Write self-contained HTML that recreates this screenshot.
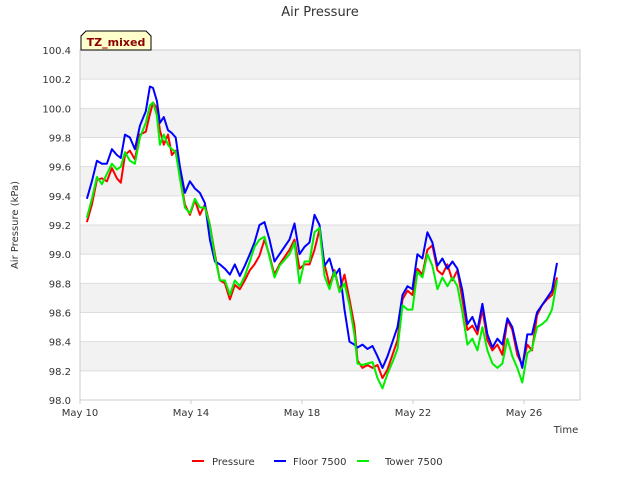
<!DOCTYPE html>
<html><head><meta charset="utf-8"><style>
body{margin:0;background:#fff;font-family:"Liberation Sans","DejaVu Sans",sans-serif}
svg text{font-family:"DejaVu Sans","Liberation Sans",sans-serif}
</style></head><body>
<svg id="chart" width="640" height="480">
<text x="320" y="16" text-anchor="middle" font-size="13" fill="#333">Air Pressure</text>
<g id="bands"></g><g id="grid"></g>
<rect x="80" y="50" width="500" height="350" fill="none" stroke="#ccc"/>
<g id="yt"></g><g id="xt"></g><g id="series"></g>
<text transform="translate(18,225) rotate(-90)" text-anchor="middle" font-size="10" fill="#333">Air Pressure (kPa)</text>
<text x="566" y="433" text-anchor="middle" font-size="10" fill="#333">Time</text>
<g><path d="M81,50 L81,36 L86,31 L146,31 L151,36 L151,50 Z" fill="#ffffcc" stroke="#000"/><text x="116" y="46" text-anchor="middle" font-size="11" font-weight="bold" fill="#8b0000">TZ_mixed</text></g>
<g>
<g><line x1="192" y1="461" x2="204" y2="461" stroke="#f00" stroke-width="2"/><text x="212" y="465" font-size="10" fill="#333">Pressure</text></g>
<g><line x1="274" y1="461" x2="286" y2="461" stroke="#00f" stroke-width="2"/><text x="293" y="465" font-size="10" fill="#333">Floor 7500</text></g>
<g><line x1="357" y1="461" x2="369" y2="461" stroke="#0e0" stroke-width="2"/><text x="385" y="465" font-size="10" fill="#333">Tower 7500</text></g>
</g>
</svg>
<script>
const days=[.25,.43,.61,.79,.97,1.15,1.33,1.47,1.62,1.80,1.98,2.16,2.37,2.52,2.63,2.77,2.88,3.02,3.17,3.31,3.45,3.60,3.78,3.96,4.14,4.32,4.50,4.68,4.86,5.04,5.22,5.40,5.58,5.76,5.94,6.12,6.29,6.47,6.65,6.83,7.01,7.19,7.55,7.73,7.91,8.09,8.27,8.45,8.63,8.81,8.99,9.17,9.35,9.53,9.71,9.89,10.0,10.18,10.36,10.54,10.72,10.90,11.08,11.26,11.44,11.62,11.80,11.98,12.16,12.34,12.52,12.70,12.88,13.06,13.24,13.42,13.60,13.78,13.96,14.14,14.32,14.50,14.68,14.86,15.04,15.22,15.40,15.58,15.76,15.94,16.12,16.29,16.47,16.65,16.83,17.01,17.19];
const pressure=[99.22,99.34,99.51,99.52,99.50,99.59,99.52,99.49,99.68,99.71,99.65,99.82,99.84,99.96,100.04,100.0,99.85,99.75,99.82,99.68,99.71,99.54,99.34,99.27,99.37,99.27,99.34,99.20,99.0,98.82,98.80,98.69,98.79,98.76,98.82,98.89,98.93,98.99,99.10,98.99,98.86,98.93,99.03,99.10,98.90,98.93,98.93,99.03,99.17,98.93,98.79,98.89,98.75,98.86,98.69,98.51,98.27,98.22,98.24,98.22,98.24,98.15,98.21,98.31,98.41,98.69,98.75,98.72,98.90,98.86,99.03,99.06,98.89,98.86,98.93,98.82,98.89,98.69,98.48,98.51,98.45,98.62,98.41,98.34,98.38,98.31,98.55,98.48,98.31,98.24,98.38,98.34,98.58,98.65,98.69,98.72,98.84];
const floor7500=[99.38,99.50,99.64,99.62,99.62,99.72,99.68,99.66,99.82,99.80,99.72,99.88,99.98,100.15,100.14,100.05,99.90,99.94,99.85,99.83,99.80,99.60,99.42,99.50,99.45,99.42,99.35,99.10,98.95,98.93,98.90,98.86,98.93,98.85,98.92,99.0,99.08,99.2,99.22,99.10,98.95,99.0,99.10,99.21,99.0,99.05,99.08,99.27,99.20,98.92,98.97,98.85,98.90,98.62,98.40,98.38,98.36,98.38,98.35,98.37,98.30,98.22,98.30,98.40,98.50,98.72,98.78,98.76,99.0,98.97,99.15,99.08,98.92,98.97,98.90,98.95,98.90,98.75,98.52,98.57,98.48,98.66,98.45,98.36,98.42,98.38,98.56,98.50,98.35,98.22,98.45,98.45,98.60,98.65,98.70,98.75,98.94];
const tower7500=[99.25,99.38,99.53,99.48,99.55,99.62,99.58,99.60,99.70,99.64,99.62,99.80,99.90,100.02,100.04,99.95,99.75,99.82,99.75,99.72,99.70,99.52,99.32,99.28,99.38,99.32,99.32,99.20,98.98,98.82,98.82,98.72,98.82,98.78,98.85,98.95,99.05,99.10,99.12,98.98,98.84,98.92,99.00,99.08,98.80,98.95,98.95,99.15,99.18,98.85,98.76,98.88,98.74,98.80,98.65,98.45,98.25,98.24,98.25,98.26,98.15,98.08,98.18,98.26,98.35,98.65,98.62,98.62,98.88,98.84,99.00,98.92,98.76,98.84,98.78,98.84,98.78,98.60,98.38,98.42,98.34,98.50,98.34,98.25,98.22,98.25,98.42,98.30,98.22,98.12,98.32,98.35,98.50,98.52,98.55,98.62,98.82];
const yTicks=[98.0,98.2,98.4,98.6,98.8,99.0,99.2,99.4,99.6,99.8,100.0,100.2,100.4];
const xTickDays=[0,4,8,12,16];
const xTickLabels=["May 10","May 14","May 18","May 22","May 26"];
const NS="http://www.w3.org/2000/svg";
const X=d=>80+d*27.75, Y=v=>400-(v-98)*(350/2.4);
function mk(p,t,a){const e=document.createElementNS(NS,t);for(const k in a)e.setAttribute(k,a[k]);p.appendChild(e);return e;}
const bands=document.getElementById('bands'),grid=document.getElementById('grid'),yt=document.getElementById('yt'),xt=document.getElementById('xt'),ser=document.getElementById('series');
yTicks.forEach((v,i)=>{
 if(i%2==1){const r=mk(bands,'rect',{x:80,y:Y(v+0.2),width:500,height:Y(v)-Y(v+0.2),fill:'#f2f2f2'});
 
 }
 const l=mk(grid,'line',{x1:80,x2:580,y1:Y(v),y2:Y(v),stroke:'#ddd'});
 
 
 const t=mk(yt,'text',{x:71,y:Y(v)+4,'text-anchor':'end','font-size':10,fill:'#333'});t.textContent=v.toFixed(1);
 
 
});
xTickDays.forEach((d,i)=>{
 mk(xt,'line',{x1:X(d),x2:X(d),y1:400,y2:404,stroke:'#ccc'});
 const t=mk(xt,'text',{x:X(d),y:416,'text-anchor':'middle','font-size':10,fill:'#333'});t.textContent=xTickLabels[i];
 
 
});
[[pressure,'#f00','pressure-line'],[floor7500,'#00f','floor-7500-line'],[tower7500,'#0e0','tower-7500-line']].forEach(s=>{
 const n=Math.min(days.length,s[0].length);
 const pts=[];for(let i=0;i<n;i++)pts.push(X(days[i]).toFixed(1)+','+Y(s[0][i]).toFixed(1));
 const p=mk(ser,'polyline',{points:pts.join(' '),fill:'none',stroke:s[1],'stroke-width':2,'stroke-linejoin':'round'});
 
 
});
</script>
</body></html>
